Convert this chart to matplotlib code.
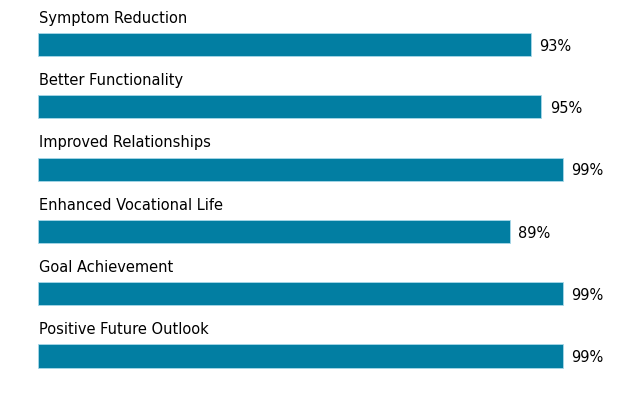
import numpy as np
import matplotlib.pyplot as plt

# outcome categories and percent of respondents reporting them
categories = ['Symptom Reduction', 'Better Functionality', 'Improved Relationships',
              'Enhanced Vocational Life', 'Goal Achievement', 'Positive Future Outlook']
values = [93, 95, 99, 89, 99, 99]
value_labels = ['93%', '95%', '99%', '89%', '99%', '99%']

bar_color = '#027ea2'

fig = plt.figure(figsize=(6.24, 3.93), dpi=100)
ax = fig.add_axes([38 / 624, 0, 1 - 38 / 624, 1])

pos = np.arange(len(categories))
ax.barh(pos, values, height=0.37, color=bar_color, edgecolor='#a8d8e8', linewidth=0.6)

for i, (cat, v, lab) in enumerate(zip(categories, values, value_labels)):
    ax.text(0.2, i - 0.42, cat, fontsize=10.5, color='black', va='center', ha='left')
    ax.text(v + 1.6, i + 0.03, lab, fontsize=10.5, color='black', va='center', ha='left')

ax.set_xlim(0, 110.6)
ax.set_ylim(5.594, -0.714)
ax.axis('off')

fig.savefig('out.png', dpi=100, facecolor='white')
